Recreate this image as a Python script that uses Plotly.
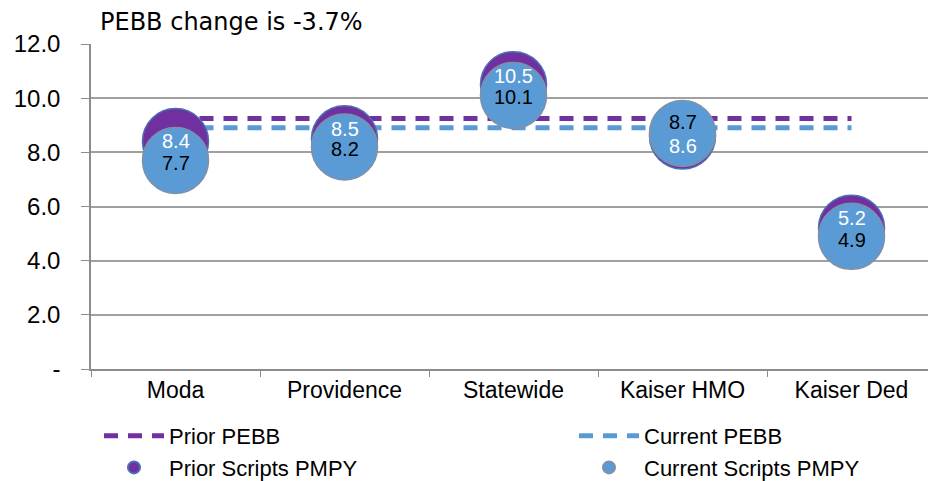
import plotly.graph_objects as go

categories = ["Moda", "Providence", "Statewide", "Kaiser HMO", "Kaiser Ded"]
prior_scripts = [8.4, 8.5, 10.5, 8.6, 5.2]
current_scripts = [7.7, 8.2, 10.1, 8.7, 4.9]
prior_pebb = 9.25
current_pebb = 8.91
change_text = "PEBB change is -3.7%"
y_ticks = [0, 2, 4, 6, 8, 10, 12]
y_ticklabels = ["-", "2.0", "4.0", "6.0", "8.0", "10.0", "12.0"]

# label vertical nudges (pixels) to mimic original label placement
prior_shift = [1, 10, 9, -10, 10]
current_shift = [-3, -2, -2, 11, -4]

PURPLE = "#7030A0"
BLUE = "#5B9BD5"
FONT = "Liberation Sans, Arial, sans-serif"

# page body adds an 8px margin, so the figure is 8px smaller than the window
W, H = 928, 473
L, R, T, B = 83, 0, 36, 112
PW, PH = W - L - R, H - T - B

fig = go.Figure()
fig.add_trace(go.Scatter(
    x=categories, y=[prior_pebb] * len(categories), mode="lines", name="Prior PEBB",
    legend="legend", line=dict(color=PURPLE, width=5, dash="14px,10px")))
fig.add_trace(go.Scatter(
    x=categories, y=[current_pebb] * len(categories), mode="lines", name="Current PEBB",
    legend="legend2", line=dict(color=BLUE, width=5, dash="14px,10px")))
fig.add_trace(go.Scatter(
    x=categories, y=prior_scripts, mode="markers", name="Prior Scripts PMPY",
    legend="legend",
    marker=dict(size=66, color=PURPLE, line=dict(color="#4A6FB5", width=1.5))))
fig.add_trace(go.Scatter(
    x=categories, y=current_scripts, mode="markers", name="Current Scripts PMPY",
    legend="legend2",
    marker=dict(size=66, color=BLUE, line=dict(color="#8090A8", width=1.5))))

for c, v, s in zip(categories, prior_scripts, prior_shift):
    fig.add_annotation(x=c, y=v, text=f"{v:.1f}", showarrow=False, yshift=s,
                       font=dict(family=FONT, size=20, color="white"))
for c, v, s in zip(categories, current_scripts, current_shift):
    fig.add_annotation(x=c, y=v, text=f"{v:.1f}", showarrow=False, yshift=s,
                       font=dict(family=FONT, size=20, color="black"))

fig.add_annotation(x=(90 - L) / PW, y=(T + PH - 14) / PH, xref="paper", yref="paper",
                   text=change_text, showarrow=False, xanchor="left", yanchor="middle",
                   font=dict(family="DejaVu Sans", size=24, color="black"))

legend_common = dict(orientation="v", yref="container", xref="container",
                     yanchor="top", xanchor="left", itemwidth=60,
                     itemsizing="constant", tracegroupgap=0, bgcolor="rgba(0,0,0,0)",
                     font=dict(family=FONT, size=22, color="black"))

fig.update_layout(
    width=W, height=H,
    margin=dict(l=L, r=R, t=T, b=B, autoexpand=False),
    paper_bgcolor="white", plot_bgcolor="white",
    font=dict(family=FONT, size=23, color="black"),
    showlegend=True,
    legend=dict(x=91 / W, y=1 - 407 / H, **legend_common),
    legend2=dict(x=566 / W, y=1 - 407 / H, **legend_common),
    xaxis=dict(type="category", range=[-0.5, 4.5], showgrid=False,
               showline=True, linecolor="#8C8C8C", linewidth=1.5,
               ticks="outside", tickson="boundaries", ticklen=6, tickcolor="#8C8C8C",
               tickfont=dict(family=FONT, size=23)),
    yaxis=dict(range=[0, 12], tickvals=y_ticks, ticktext=y_ticklabels,
               showgrid=True, gridcolor="#A0A0A0", gridwidth=1.5,
               showline=True, linecolor="#8C8C8C", linewidth=1.5,
               ticks="outside", ticklen=8, tickcolor="#8C8C8C",
               ticklabelstandoff=16, zeroline=False,
               tickfont=dict(family=FONT, size=24)),
)

fig.write_html("out.html")
